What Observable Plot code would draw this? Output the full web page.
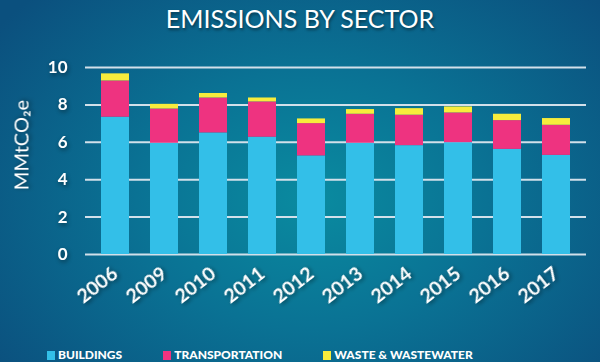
<!DOCTYPE html>
<html><head><meta charset="utf-8">
<script src="https://cdn.jsdelivr.net/npm/d3@7"></script>
<script src="https://cdn.jsdelivr.net/npm/@observablehq/plot@0.6"></script>
<style>
html,body{margin:0;padding:0;}
body{width:600px;height:362px;overflow:hidden;position:relative;
  background: radial-gradient(ellipse 65% 80% at 52% 55%, #0a8ba0 0%, #0a7294 45%, #0b507e 100%);
  font-family: Lato, "Open Sans", sans-serif; color:#fff;}
#title{position:absolute;top:3px;left:0;width:600px;line-height:30px;text-align:center;
  font-size:25px;font-weight:400;text-shadow:1px 2px 3px rgba(0,0,0,0.45);}
#chart{position:absolute;top:50px;left:0;}
#chart svg text{filter:drop-shadow(1px 2px 2px rgba(0,0,0,0.45));}
#legend{position:absolute;top:347px;left:47px;display:flex;gap:41px;font-size:12px;font-weight:900;line-height:16px;}
#legend .item{display:flex;align-items:center;gap:3px;}
#legend .sw{width:8px;height:9px;display:inline-block;}
</style>
</head><body>
<div id="title">EMISSIONS BY SECTOR</div>
<div id="chart"></div>
<div id="legend"></div>
<script>
const years = ["2006","2009","2010","2011","2012","2013","2014","2015","2016","2017"];
const sectors = ["BUILDINGS","TRANSPORTATION","WASTE & WASTEWATER"];
const colors = ["#33bfe8","#ee3380","#f7ec3c"];
const buildings = [7.34,5.95,6.50,6.27,5.27,5.95,5.82,5.98,5.62,5.30];
const transportation = [1.94,1.83,1.87,1.89,1.73,1.55,1.63,1.59,1.54,1.61];
const waste = [0.38,0.25,0.24,0.21,0.25,0.25,0.35,0.32,0.34,0.36];
const yTicks = [0,2,4,6,8,10];
const yLabel = "MMtCO₂e";

const series = [buildings, transportation, waste];
const data = [];
years.forEach((yr, i) => sectors.forEach((s, j) => data.push({year: yr, sector: s, value: series[j][i]})));

const plot = Plot.plot({
  width: 600, height: 270,
  marginLeft: 85, marginRight: 14, marginTop: 17, marginBottom: 66,
  style: {background: "transparent", color: "white", fontFamily: "Lato, sans-serif"},
  x: {domain: years, paddingInner: 0.424, paddingOuter: 0.272, label: null},
  y: {domain: [0, 10], label: null},
  color: {domain: sectors, range: colors},
  marks: [
    Plot.ruleY(yTicks, {stroke: "#d2e0ea", strokeWidth: 2}),
    Plot.barY(data, {x: "year", y: "value", fill: "sector", order: sectors,
      style: "filter: drop-shadow(3px 3px 3px rgba(0,0,0,0.3))"}),
    Plot.axisY({ticks: yTicks, tickSize: 0, tickPadding: 18, fontSize: 17, fontWeight: 700}),
    Plot.axisX({tickRotate: -38, tickSize: 0, tickPadding: 17, fontSize: 19.5, fontWeight: 700, letterSpacing: 0.5}),
    Plot.text([yLabel], {text: d => d, frameAnchor: "left", textAnchor: "middle", rotate: -90, dx: -63, dy: -16, fontSize: 20, letterSpacing: 0.8, fill: "white"})
  ]
});
document.getElementById("chart").appendChild(plot);

const legend = document.getElementById("legend");
sectors.forEach((s, i) => {
  const it = document.createElement("div");
  it.className = "item";
  const sw = document.createElement("span");
  sw.className = "sw"; sw.style.background = colors[i];
  const t = document.createElement("span"); t.textContent = s;
  it.appendChild(sw); it.appendChild(t);
  legend.appendChild(it);
});
</script>
</body></html>
